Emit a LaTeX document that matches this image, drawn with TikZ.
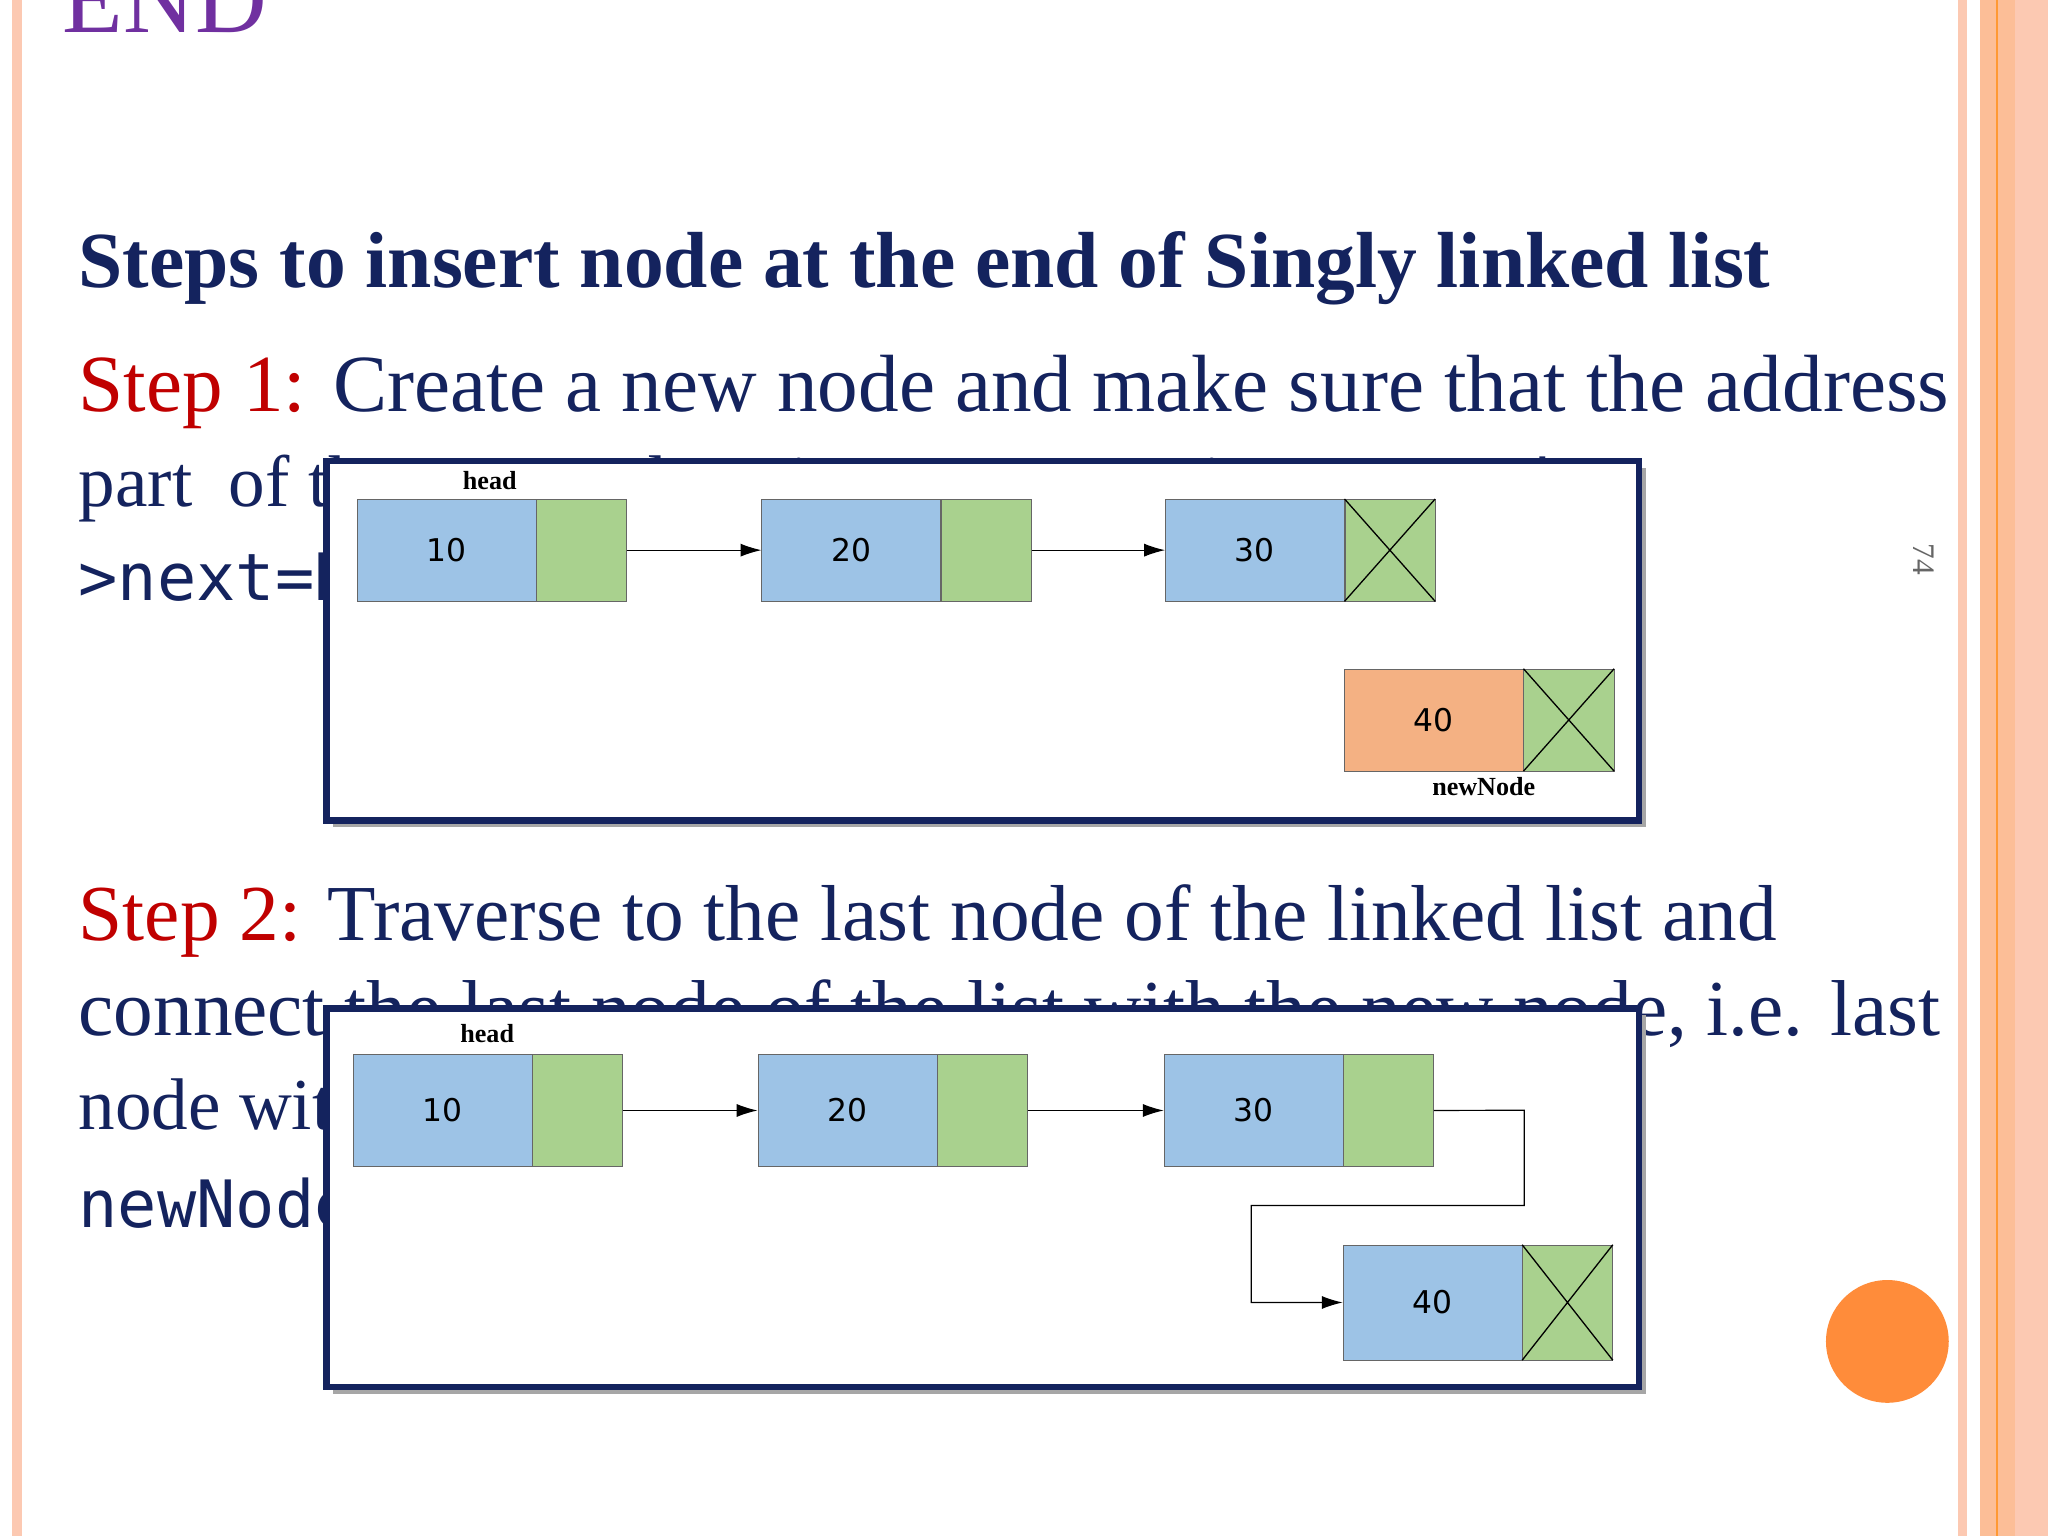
\documentclass[tikz,border=0pt]{standalone}
\usepackage{fontspec}
\setmainfont{Liberation Serif}
\newfontfamily\monof{DejaVu Sans Mono}
\newfontfamily\numf{DejaVu Sans}
\usetikzlibrary{arrows.meta}
\definecolor{navy}{HTML}{14235E}
\definecolor{stepred}{HTML}{C00000}
\definecolor{salmon}{HTML}{FCC9B2}
\definecolor{cblue}{HTML}{9DC3E6}
\definecolor{cgreen}{HTML}{A9D18E}
\definecolor{corange}{HTML}{F4B183}
\definecolor{endpurple}{HTML}{7030A0}
\definecolor{circorange}{HTML}{FF8C3A}
\tikzset{
 cellb/.style={draw=black!60, fill=cblue, minimum width=137pt, inner sep=0pt, font=\numf\fontsize{24}{24}\selectfont},
 cellg/.style={draw=black!60, fill=cgreen, minimum width=69pt, inner sep=0pt},
 lbl/.style={font=\bfseries\fontsize{20}{20}\selectfont, inner sep=0pt},
 link/.style={-{Latex[length=16pt,width=10pt]}, line width=0.9pt},
 frame/.style={draw=navy, line width=5pt, fill=white},
 body/.style={anchor=base west, inner sep=0pt, text=navy, font=\fontsize{56}{56}\selectfont},
}
\newcommand{\xcross}[1]{\draw[line width=1pt] (#1.north west)--(#1.south east) (#1.north east)--(#1.south west);}
\begin{document}
\begin{tikzpicture}[x=1pt,y=-1pt]
\useasboundingbox (0,0) rectangle (1568,1176);
\fill[white] (0,0) rectangle (1568,1176);
% borders
\fill[salmon] (9,0) rectangle (17,1176);
\fill[salmon] (1499,0) rectangle (1506,1176);
\fill[salmon] (1516,0) rectangle (1568,1176);
\fill[salmon!85!orange] (1516,0) rectangle (1543,1176);
\draw[orange!80, line width=1.2pt] (1529,0) -- (1529,1176);
% END
\node[anchor=base west, inner sep=0pt, text=endpurple, font=\fontsize{76}{76}\selectfont] (endt) at (48,25) {END};
% title
\node[anchor=base west, inner sep=0pt, text=navy] (title) at (60,220) {\resizebox{1295pt}{!}{\bfseries Steps to insert node at the end of Singly linked list}};
% step 1 text
\node[body] (s1a) at (60,315) {\resizebox{1432pt}{!}{\textcolor{stepred}{Step 1:} Create a new node and make sure that the address}};
\node[body] (s1b) at (60,388) {part\ \ of the new node points to NULL i.e. {\monof\fontsize{50}{50}\selectfont newNode-}};
\node[body] (s1c) at (60,460) {{\monof\fontsize{50}{50}\selectfont >next=NULL}};
% step 2 text
\node[body] (s2a) at (60,720) {\resizebox{1300pt}{!}{\textcolor{stepred}{Step 2:} Traverse to the last node of the linked list and}};
\node[body] (s2b) at (60,793) {\resizebox{1425pt}{!}{connect the last node of the list with the new node, i.e. last}};
\node[body] (s2c) at (60,865) {node with the new node i.e. {\monof\fontsize{50}{50}\selectfont lastNode->next\ \ =}};
\node[body] (s2d) at (60,940) {{\monof\fontsize{50}{50}\selectfont newNode}};
% page number
\node[rotate=-90, text=black!60, font=\fontsize{24}{24}\selectfont] (pg) at (1473,428) {74};
% ===== box 1 =====
\fill[black!35] (255,358) rectangle (1260,633);
\draw[frame] (250,353) rectangle (1255,628);
\node[lbl] (h1) at (375,368) {head};
\node[cellb, minimum height=78pt, anchor=north west] (a1) at (273,382) {10};
\node[cellg, minimum height=78pt, anchor=north west] (a1p) at (a1.north east) {};
\node[cellb, minimum height=78pt, anchor=north west] (b1) at (583,382) {20};
\node[cellg, minimum height=78pt, anchor=north west] (b1p) at (b1.north east) {};
\node[cellb, minimum height=78pt, anchor=north west] (c1) at (892,382) {30};
\node[cellg, minimum height=78pt, anchor=north west] (c1p) at (c1.north east) {};
\xcross{c1p}
\node[cellb, fill=corange, minimum height=78pt, anchor=north west] (d1) at (1029,512) {40};
\node[cellg, minimum height=78pt, anchor=north west] (d1p) at (d1.north east) {};
\xcross{d1p}
\node[lbl] (n1) at (1136,602) {newNode};
\draw[link] (a1p.east) -- (b1.west);
\draw[link] (b1p.east) -- (c1.west);
% ===== box 2 =====
\fill[black!35] (255,777) rectangle (1260,1067);
\draw[frame] (250,772) rectangle (1255,1062);
\node[lbl] (h2) at (373,791) {head};
\node[cellb, minimum height=86pt, anchor=north west] (a2) at (270,807) {10};
\node[cellg, minimum height=86pt, anchor=north west] (a2p) at (a2.north east) {};
\node[cellb, minimum height=86pt, anchor=north west] (b2) at (580,807) {20};
\node[cellg, minimum height=86pt, anchor=north west] (b2p) at (b2.north east) {};
\node[cellb, minimum height=86pt, anchor=north west] (c2) at (891,807) {30};
\node[cellg, minimum height=86pt, anchor=north west] (c2p) at (c2.north east) {};
\node[cellb, minimum height=88pt, anchor=north west] (d2) at (1028,953) {40};
\node[cellg, minimum height=88pt, anchor=north west] (d2p) at (d2.north east) {};
\xcross{d2p}
\draw[link] (a2p.east) -- (b2.west);
\draw[link] (b2p.east) -- (c2.west);
\coordinate (k1) at (1167,850);
\coordinate (k2) at (1167,923);
\coordinate (k3) at (958,923);
\draw[link] (c2p.east) -- (k1) -- (k2) -- (k3) |- (d2.west);
% orange circle
\fill[circorange] (1445,1027) circle (47);
\end{tikzpicture}
\end{document}
